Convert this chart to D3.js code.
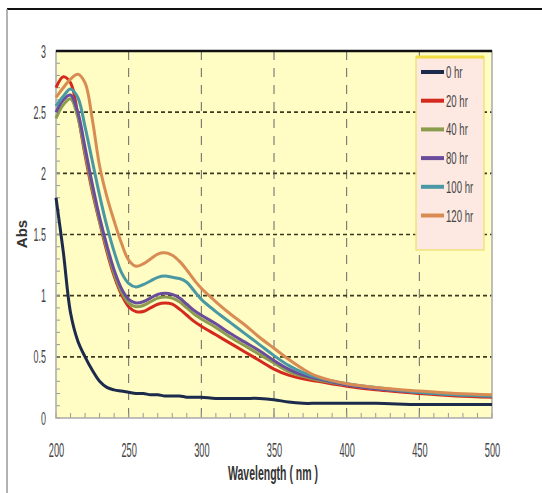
<!DOCTYPE html>
<html>
<head>
<meta charset="utf-8">
<script src="https://cdn.jsdelivr.net/npm/d3@7"></script>
<style>
    body { margin: 0; background: #ffffff; }
    text { font-family: "Liberation Sans", Arial, sans-serif; }
</style>
</head>
<body>
<div id="chart"></div>
<script>
// wavelengths (nm) shared by every series
const wavelengths = [200, 205, 210, 215, 220, 225, 230, 235, 240, 245, 250, 255, 260, 265, 270, 275, 280, 285, 290, 295, 300, 310, 320, 330, 340, 350, 360, 370, 380, 400, 420, 450, 475, 500];

const abs0 = [1.80, 1.36, 0.86, 0.63, 0.50, 0.39, 0.30, 0.25, 0.23, 0.22, 0.21, 0.20, 0.20, 0.19, 0.19, 0.18, 0.18, 0.18, 0.17, 0.17, 0.17, 0.16, 0.16, 0.16, 0.16, 0.15, 0.13, 0.12, 0.12, 0.12, 0.12, 0.11, 0.11, 0.11];
const abs20 = [2.70, 2.79, 2.74, 2.48, 2.15, 1.85, 1.60, 1.36, 1.16, 1.01, 0.91, 0.87, 0.87, 0.90, 0.93, 0.94, 0.93, 0.89, 0.84, 0.79, 0.75, 0.68, 0.61, 0.54, 0.47, 0.40, 0.35, 0.32, 0.30, 0.26, 0.23, 0.20, 0.18, 0.17];
const abs40 = [2.45, 2.56, 2.61, 2.46, 2.17, 1.87, 1.61, 1.38, 1.18, 1.03, 0.94, 0.91, 0.92, 0.95, 0.98, 0.99, 0.98, 0.95, 0.90, 0.85, 0.81, 0.74, 0.66, 0.59, 0.52, 0.45, 0.38, 0.34, 0.31, 0.27, 0.24, 0.21, 0.19, 0.18];
const abs80 = [2.50, 2.60, 2.64, 2.50, 2.21, 1.91, 1.64, 1.41, 1.21, 1.06, 0.97, 0.94, 0.95, 0.98, 1.01, 1.02, 1.01, 0.98, 0.93, 0.88, 0.84, 0.77, 0.69, 0.62, 0.55, 0.47, 0.40, 0.35, 0.32, 0.27, 0.24, 0.21, 0.19, 0.18];
const abs100 = [2.55, 2.63, 2.69, 2.62, 2.38, 2.10, 1.82, 1.57, 1.36, 1.19, 1.10, 1.07, 1.09, 1.12, 1.15, 1.16, 1.15, 1.14, 1.11, 1.04, 0.97, 0.87, 0.78, 0.69, 0.60, 0.51, 0.43, 0.37, 0.33, 0.28, 0.25, 0.21, 0.19, 0.18];
const abs120 = [2.62, 2.70, 2.77, 2.81, 2.74, 2.44, 2.06, 1.81, 1.61, 1.43, 1.29, 1.24, 1.26, 1.30, 1.34, 1.35, 1.33, 1.28, 1.21, 1.13, 1.06, 0.95, 0.85, 0.76, 0.66, 0.57, 0.48, 0.40, 0.34, 0.28, 0.25, 0.22, 0.20, 0.19];

const seriesNames = ["0 hr", "20 hr", "40 hr", "80 hr", "100 hr", "120 hr"];
const seriesValues = [abs0, abs20, abs40, abs80, abs100, abs120];
const seriesColors = ["#1c2a4c", "#d42a1e", "#8c9c4e", "#6a4c9c", "#4a98a4", "#d88c54"];

const xTicks = [200, 250, 300, 350, 400, 450, 500];
const yTicks = [0, 0.5, 1, 1.5, 2, 2.5, 3];
const yTickLabels = ["0", "0.5", "1", "1.5", "2", "2.5", "3"];

const sizes = {
    width: 542,
    height: 493,
    left: 56,
    right: 492,
    top: 51,
    bottom: 418
};

// squeeze text horizontally, the source uses a narrow face
function narrow(sel, factor) {
    sel.each(function () {
        const w = this.getComputedTextLength();
        d3.select(this)
            .attr("textLength", w * factor)
            .attr("lengthAdjust", "spacingAndGlyphs");
    });
}

const svg = d3.select("#chart")
    .append("svg")
    .attr("width", sizes.width)
    .attr("height", sizes.height);

// outer frame of the picture
svg.append("line")
    .attr("x1", 7).attr("x2", sizes.width)
    .attr("y1", 9).attr("y2", 9)
    .attr("stroke", "#111").attr("stroke-width", 2);
svg.append("line")
    .attr("x1", 7).attr("x2", 7)
    .attr("y1", 9).attr("y2", sizes.height)
    .attr("stroke", "#999").attr("stroke-width", 1.5);

const xScale = d3.scaleLinear()
    .domain([200, 500])
    .range([sizes.left, sizes.right]);

const yScale = d3.scaleLinear()
    .domain([0, 3])
    .range([sizes.bottom, sizes.top]);

// plot background
svg.append("rect")
    .attr("x", sizes.left)
    .attr("y", sizes.top)
    .attr("width", sizes.right - sizes.left)
    .attr("height", sizes.bottom - sizes.top)
    .attr("fill", "#fffcc4");

// vertical grid
svg.append("g")
    .selectAll("line")
    .data(xTicks.slice(1, -1))
    .join("line")
    .attr("x1", d => xScale(d)).attr("x2", d => xScale(d))
    .attr("y1", sizes.top).attr("y2", sizes.bottom)
    .attr("stroke", "#666")
    .attr("stroke-width", 1)
    .attr("stroke-dasharray", "9,8");

// horizontal grid
svg.append("g")
    .selectAll("line")
    .data(yTicks.slice(1, -1))
    .join("line")
    .attr("x1", sizes.left).attr("x2", sizes.right)
    .attr("y1", d => yScale(d)).attr("y2", d => yScale(d))
    .attr("stroke", "#3a3a20")
    .attr("stroke-width", 1.6)
    .attr("stroke-dasharray", "4,3");

// minor ticks inside the plot
const minorY = d3.range(0, 3.01, 0.1);
svg.append("g")
    .selectAll("line")
    .data(minorY)
    .join("line")
    .attr("x1", sizes.left).attr("x2", sizes.left + 4)
    .attr("y1", d => yScale(d)).attr("y2", d => yScale(d))
    .attr("stroke", "#999").attr("stroke-width", 1);

const minorX = d3.range(200, 501, 10);
svg.append("g")
    .selectAll("line")
    .data(minorX)
    .join("line")
    .attr("x1", d => xScale(d)).attr("x2", d => xScale(d))
    .attr("y1", sizes.bottom).attr("y2", sizes.bottom - 5)
    .attr("stroke", "#999").attr("stroke-width", 1);

// plot border
svg.append("rect")
    .attr("x", sizes.left)
    .attr("y", sizes.top)
    .attr("width", sizes.right - sizes.left)
    .attr("height", sizes.bottom - sizes.top)
    .attr("fill", "none")
    .attr("stroke", "#aaa")
    .attr("stroke-width", 1.5);
svg.append("line")
    .attr("x1", sizes.left).attr("x2", sizes.right)
    .attr("y1", sizes.top).attr("y2", sizes.top)
    .attr("stroke", "#111").attr("stroke-width", 2.5);

// curves
const line = d3.line()
    .x(d => xScale(d[0]))
    .y(d => yScale(d[1]))
    .curve(d3.curveCatmullRom.alpha(0.5));

svg.append("g")
    .selectAll("path")
    .data(seriesValues)
    .join("path")
    .attr("d", vals => line(wavelengths.map((w, i) => [w, vals[i]])))
    .attr("fill", "none")
    .attr("stroke", (d, i) => seriesColors[i])
    .attr("stroke-width", 3)
    .attr("stroke-linejoin", "round");

// axes labels
const yAxis = d3.axisLeft(yScale)
    .tickValues(yTicks)
    .tickFormat((d, i) => yTickLabels[i])
    .tickSize(0)
    .tickPadding(8);

svg.append("g")
    .attr("transform", "translate(" + (sizes.left - 2) + ",0)")
    .call(yAxis)
    .call(g => g.select(".domain").remove())
    .selectAll("text")
    .attr("font-family", "Liberation Sans, Arial, sans-serif")
    .attr("font-size", 19)
    .attr("fill", "#444")
    .call(narrow, 0.47);

const xAxis = d3.axisBottom(xScale)
    .tickValues(xTicks)
    .tickSize(0)
    .tickPadding(24);

svg.append("g")
    .attr("transform", "translate(0," + sizes.bottom + ")")
    .call(xAxis)
    .call(g => g.select(".domain").remove())
    .selectAll("text")
    .attr("font-family", "Liberation Sans, Arial, sans-serif")
    .attr("font-size", 21)
    .attr("fill", "#444")
    .call(narrow, 0.44);

svg.append("text")
    .attr("x", 273)
    .attr("y", 480)
    .attr("text-anchor", "middle")
    .attr("font-size", 21)
    .attr("font-weight", "bold")
    .attr("fill", "#333")
    .text("Wavelength ( nm )")
    .call(narrow, 0.5);

svg.append("text")
    .attr("transform", "translate(27,234) rotate(-90)")
    .attr("text-anchor", "middle")
    .attr("font-size", 15)
    .attr("font-weight", "bold")
    .attr("fill", "#333")
    .text("Abs");

// legend
const legend = svg.append("g")
    .attr("transform", "translate(416,57)");

legend.append("rect")
    .attr("width", 68)
    .attr("height", 193)
    .attr("fill", "#fde9e2")
    .attr("stroke", "#f2e27a")
    .attr("stroke-width", 1.5);
legend.append("line")
    .attr("x1", 0).attr("x2", 68)
    .attr("y1", 0).attr("y2", 0)
    .attr("stroke", "#f0dc40").attr("stroke-width", 3);

const item = legend.selectAll(".item")
    .data(seriesNames)
    .join("g")
    .attr("class", "item")
    .attr("transform", (d, i) => "translate(0," + (15 + i * 28.7) + ")");

item.append("line")
    .attr("x1", 5).attr("x2", 28)
    .attr("stroke", (d, i) => seriesColors[i])
    .attr("stroke-width", 4);

item.append("text")
    .attr("x", 30)
    .attr("y", 6)
    .attr("font-size", 16)
    .attr("fill", "#444")
    .text(d => d)
    .call(narrow, 0.6);
</script>
</body>
</html>
